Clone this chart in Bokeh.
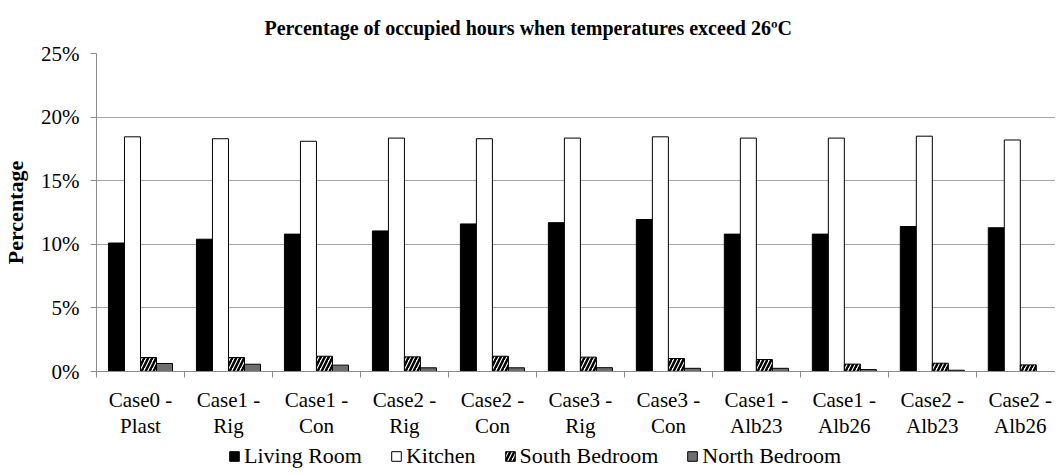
from bokeh.plotting import figure
from bokeh.layouts import column
from bokeh.models import (ColumnDataSource, FixedTicker, Range1d, Legend, LegendItem,
                          PrintfTickFormatter)
from bokeh.transform import dodge
from bokeh.embed import file_html
from bokeh.resources import INLINE

cases = ["Case0 -\nPlast", "Case1 -\nRig", "Case1 -\nCon", "Case2 -\nRig", "Case2 -\nCon",
         "Case3 -\nRig", "Case3 -\nCon", "Case1 -\nAlb23", "Case1 -\nAlb26", "Case2 -\nAlb23",
         "Case2 -\nAlb26"]
living_room = [10.1, 10.4, 10.8, 11.05, 11.6, 11.7, 11.95, 10.8, 10.8, 11.4, 11.3]
kitchen = [18.45, 18.3, 18.1, 18.35, 18.3, 18.35, 18.45, 18.35, 18.35, 18.5, 18.2]
south_bedroom = [1.1, 1.1, 1.2, 1.15, 1.2, 1.13, 1.02, 0.94, 0.58, 0.65, 0.52]
north_bedroom = [0.63, 0.57, 0.5, 0.29, 0.29, 0.3, 0.25, 0.25, 0.15, 0.1, 0.0]
series_names = ["Living Room", "Kitchen", "South Bedroom", "North Bedroom"]
y_ticks = [0, 5, 10, 15, 20, 25]

FONT = "Liberation Serif"
n = len(cases)
centers = [i + 0.5 for i in range(n)]
bw = 0.182

styles = [dict(fill_color="black", line_color="black", line_width=1),
          dict(fill_color="white", line_color="black", line_width=1),
          dict(fill_color="white", line_color="black", line_width=1,
               hatch_pattern="/", hatch_color="black", hatch_scale=8, hatch_weight=2.5),
          dict(fill_color="#6e6e6e", line_color="black", line_width=1)]

src = ColumnDataSource(dict(x=centers, lr=living_room, k=kitchen, sb=south_bedroom, nb=north_bedroom))

p = figure(frame_width=959, frame_height=318, output_backend="svg", toolbar_location=None,
           x_range=Range1d(0, 10.9), y_range=Range1d(0, 25),
           min_border_left=92, min_border_right=0, min_border_top=49, min_border_bottom=70)
p.outline_line_color = None
p.background_fill_color = "white"
p.border_fill_color = "white"

p.title.text = "Percentage of occupied hours when temperatures exceed 26\u00baC"
p.title.text_font = FONT
p.title.text_font_size = "20px"
p.title.text_font_style = "bold"
p.title.text_color = "black"
p.title.align = "left"
p.title.offset = 168
p.title.standoff = 29

for col, off, st in zip(["lr", "k", "sb", "nb"], [-1.5, -0.5, 0.5, 1.5], styles):
    p.vbar(x=dodge("x", off * bw), top=col, width=bw, source=src, **st)

# y axis
p.yaxis.ticker = FixedTicker(ticks=y_ticks)
p.yaxis.formatter = PrintfTickFormatter(format="%d%%")
p.yaxis.axis_label = "Percentage"
p.yaxis.axis_label_text_font = FONT
p.yaxis.axis_label_text_font_size = "22px"
p.yaxis.axis_label_text_font_style = "bold"
p.yaxis.axis_label_text_color = "black"
p.yaxis.axis_label_standoff = 10
p.yaxis.major_label_text_font = FONT
p.yaxis.major_label_text_font_size = "21px"
p.yaxis.major_label_text_color = "black"
p.yaxis.major_label_standoff = 11
p.yaxis.axis_line_color = "#8c8c8c"
p.yaxis.major_tick_line_color = "#8c8c8c"
p.yaxis.major_tick_out = 6
p.yaxis.major_tick_in = 0
p.yaxis.minor_tick_line_color = None

# x axis
p.xaxis.ticker = FixedTicker(ticks=centers, minor_ticks=list(range(n + 1)))
p.xaxis.major_label_overrides = {c: lab for c, lab in zip(centers, cases)}
p.xaxis.major_label_text_font = FONT
p.xaxis.major_label_text_font_size = "21px"
p.xaxis.major_label_text_color = "black"
p.xaxis.major_label_text_line_height = 1.1
p.xaxis.major_label_standoff = 10
p.xaxis.major_tick_line_color = None
p.xaxis.minor_tick_line_color = "#8c8c8c"
p.xaxis.minor_tick_out = 6
p.xaxis.minor_tick_in = 0
p.xaxis.axis_line_color = "#8c8c8c"

p.xgrid.grid_line_color = None
p.ygrid.ticker = FixedTicker(ticks=y_ticks)
p.ygrid.grid_line_color = "#a6a6a6"
p.ygrid.grid_line_width = 1

# legend strip below the chart (swatch renderers sit outside the visible range)
p2 = figure(width=1051, height=28, output_backend="svg", toolbar_location=None,
            x_range=Range1d(0, 1), y_range=Range1d(0, 1), min_border=0,
            x_axis_type=None, y_axis_type=None)
p2.outline_line_color = None
p2.grid.visible = False
leg_renderers = [p2.vbar(x=[5], top=[1], width=0.1, **st) for st in styles]
legend = Legend(items=[LegendItem(label=nm, renderers=[r]) for nm, r in zip(series_names, leg_renderers)],
                orientation="horizontal", location=(132, 0),
                label_text_font=FONT, label_text_font_size="22px", label_text_color="black",
                glyph_width=12, glyph_height=12, label_standoff=4, spacing=28,
                padding=0, margin=0, border_line_color=None, background_fill_alpha=0)
legend.label_text_font = FONT
p2.add_layout(legend)

open("out.html", "w").write(file_html(column(p, p2, spacing=0), INLINE))
